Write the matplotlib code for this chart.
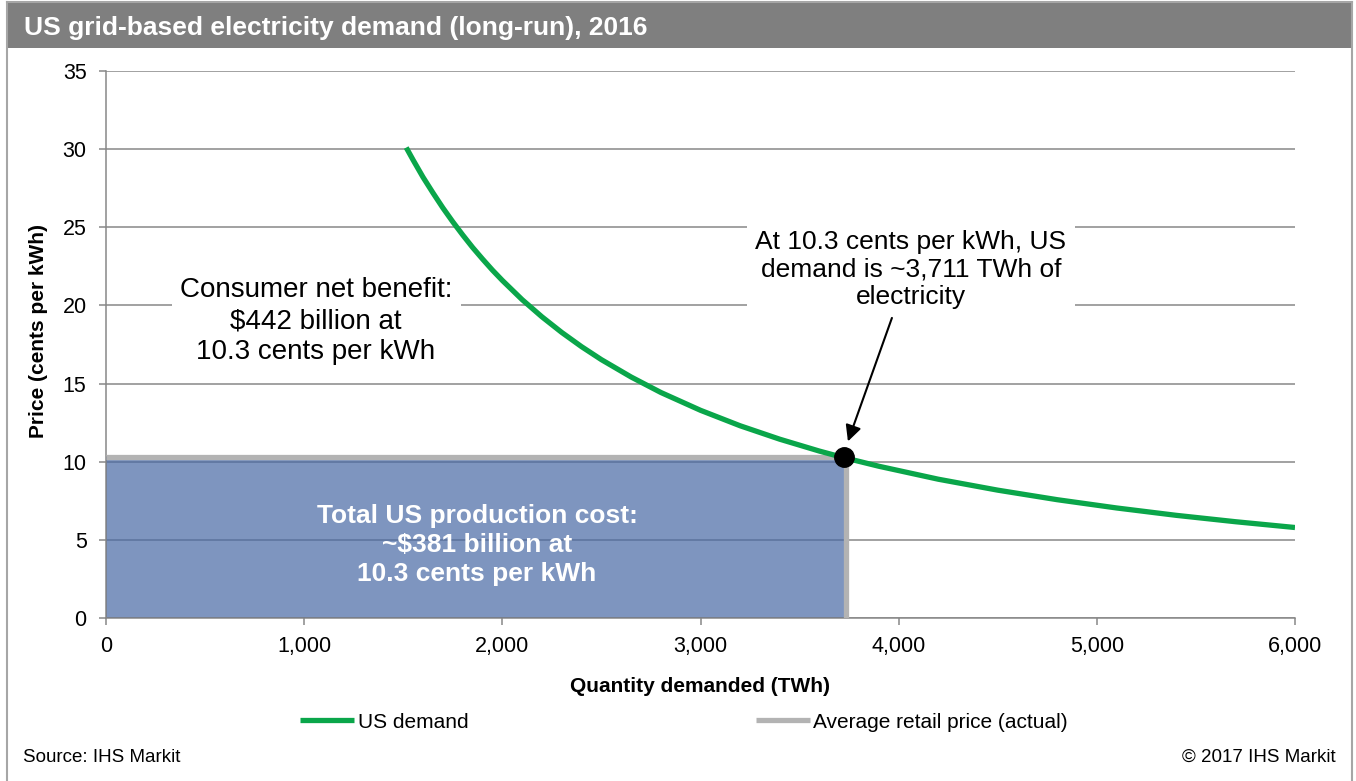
import matplotlib
matplotlib.use("Agg")
import matplotlib.pyplot as plt
from matplotlib.patches import Rectangle
from matplotlib.lines import Line2D
from matplotlib.ticker import StrMethodFormatter

plt.rcParams["font.family"] = ["Liberation Sans", "DejaVu Sans"]

# demand curve (TWh, cents per kWh)
demand_qty = [1515, 1550, 1600, 1650, 1700, 1750, 1800, 1850, 1900, 1950, 2000,
              2100, 2200, 2300, 2400, 2500, 2650, 2800, 3000, 3200, 3400, 3600,
              3711, 3900, 4200, 4500, 4800, 5100, 5400, 5700, 6000]
demand_price = [30.1, 29.3, 28.2, 27.2, 26.24, 25.35, 24.51, 23.71, 22.97, 22.26, 21.6,
                20.37, 19.27, 18.27, 17.36, 16.53, 15.42, 14.43, 13.29, 12.3, 11.44, 10.68,
                10.3, 9.71, 8.88, 8.18, 7.57, 7.04, 6.57, 6.16, 5.79]

retail_qty = 3735
retail_price = 10.3
point_qty = 3725
point_price = 10.3

x_ticks = [0, 1000, 2000, 3000, 4000, 5000, 6000]
y_ticks = [0, 5, 10, 15, 20, 25, 30, 35]

W, H = 1356, 781
GREEN = "#0aa64a"
GREY_LINE = "#b3b3b3"
GRID = "#878787"

fig = plt.figure(figsize=(W / 100, H / 100), dpi=100)
ax = fig.add_axes([106 / W, 1 - 618 / H, (1295 - 106) / W, (618 - 71) / H])

# header bar and outer frame
fig.add_artist(Rectangle((7 / W, 1 - 48 / H), (1352 - 7) / W, 46 / H,
                         transform=fig.transFigure, facecolor="#7f7f7f",
                         edgecolor="none"))
fig.add_artist(Line2D([7 / W, 7 / W], [0, 1 - 2 / H], color="#a6a6a6", lw=1.5))
fig.add_artist(Line2D([1352 / W, 1352 / W], [0, 1 - 2 / H], color="#a6a6a6", lw=1.5))
fig.add_artist(Line2D([7 / W, 1352 / W], [1 - 2 / H, 1 - 2 / H], color="#a6a6a6", lw=1.5))
fig.text(24 / W, 1 - 35 / H, "US grid-based electricity demand (long-run), 2016",
         color="white", fontsize=19, fontweight="bold", va="baseline", ha="left")

# production cost box
ax.add_patch(Rectangle((0, 0), retail_qty, retail_price, facecolor="#4869a5",
                       edgecolor="#3a568c", lw=1.2, alpha=0.7, zorder=1))

demand_line, = ax.plot(demand_qty, demand_price, color=GREEN, lw=3.8,
                       solid_capstyle="butt", solid_joinstyle="round", zorder=4,
                       label="US demand")
retail_line, = ax.plot([0, retail_qty, retail_qty], [retail_price, retail_price, 0],
                       color=GREY_LINE, lw=3.8, solid_joinstyle="miter",
                       solid_capstyle="butt", zorder=3,
                       label="Average retail price (actual)")
ax.plot([point_qty], [point_price], "o", color="black", ms=14, zorder=6)

ax.set_xlim(0, 6000)
ax.set_ylim(0, 35)
ax.set_xticks(x_ticks)
ax.set_yticks(y_ticks)
ax.xaxis.set_major_formatter(StrMethodFormatter("{x:,.0f}"))
ax.set_axisbelow(True)
ax.grid(axis="y", color=GRID, lw=1.1)
for side in ["top", "right"]:
    ax.spines[side].set_visible(False)
for side in ["left", "bottom"]:
    ax.spines[side].set_color(GRID)
    ax.spines[side].set_linewidth(1.1)
ax.tick_params(axis="y", length=5, width=1.1, color=GRID, pad=9, labelsize=15.5)
ax.tick_params(axis="x", length=5, width=1.1, color=GRID, pad=8, labelsize=15.5)

ax.set_xlabel("Quantity demanded (TWh)", fontsize=15, fontweight="bold", labelpad=14)
ax.set_ylabel("Price (cents per kWh)", fontsize=15, fontweight="bold")
ax.yaxis.set_label_coords(-0.049, 0.525)

# annotations
ax.text(1060, 19.0, "Consumer net benefit:\n$442 billion at\n10.3 cents per kWh",
        ha="center", va="center", fontsize=20, linespacing=1.25, zorder=3,
        bbox=dict(facecolor="white", edgecolor="none", pad=6))
ax.text(4062, 22.3, "At 10.3 cents per kWh, US\ndemand is ~3,711 TWh of\nelectricity",
        ha="center", va="center", fontsize=19, linespacing=1.2, zorder=3,
        bbox=dict(facecolor="white", edgecolor="none", pad=6))
ax.text(1872, 4.67, "Total US production cost:\n~$381 billion at\n10.3 cents per kWh",
        ha="center", va="center", fontsize=19, fontweight="bold", color="white",
        linespacing=1.25, zorder=5)
ax.annotate("", xy=(3744, 11.3), xytext=(3966, 19.2),
            arrowprops=dict(arrowstyle="-|>", color="black", lw=1.5,
                            mutation_scale=24, shrinkA=0, shrinkB=0), zorder=6)

ax.legend(handles=[demand_line, retail_line], loc="center",
          bbox_to_anchor=(684 / W, 1 - 722 / H), bbox_transform=fig.transFigure,
          ncol=2, frameon=False, fontsize=15, handlelength=2.6,
          handletextpad=0.15, columnspacing=13.8)

fig.text(23 / W, 1 - 757 / H, "Source: IHS Markit", fontsize=13.5, va="center", ha="left")
fig.text(1336 / W, 1 - 757 / H, "\u00a9 2017 IHS Markit", fontsize=13.5, va="center", ha="right")

fig.savefig("out.png", dpi=100)
